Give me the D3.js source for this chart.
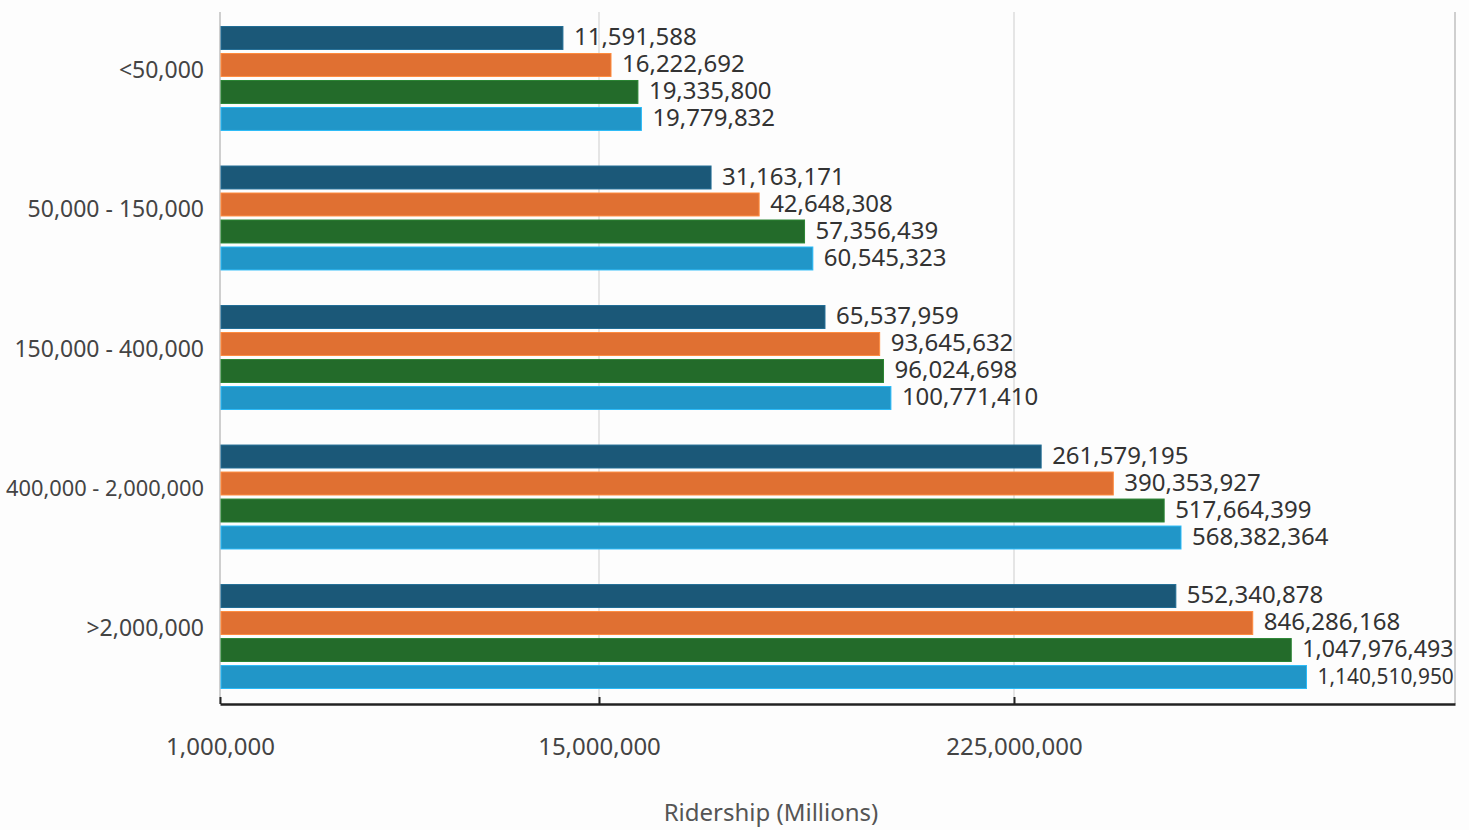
<!DOCTYPE html>
<html>
<head>
<meta charset="utf-8">
<script src="https://cdn.jsdelivr.net/npm/d3@7"></script>
<style>
  html, body { margin: 0; padding: 0; background: #fdfdfd; }
  svg { display: block; font-family: "Noto Sans", sans-serif; }
</style>
</head>
<body>
<svg id="chart" width="1469" height="830"></svg>
<script>
// ---- data ----
const categories = ["<50,000", "50,000 - 150,000", "150,000 - 400,000", "400,000 - 2,000,000", ">2,000,000"];
const seriesNames = ["s1", "s2", "s3", "s4"];
const series1 = [11591588, 31163171, 65537959, 261579195, 552340878];
const series2 = [16222692, 42648308, 93645632, 390353927, 846286168];
const series3 = [19335800, 57356439, 96024698, 517664399, 1047976493];
const series4 = [19779832, 60545323, 100771410, 568382364, 1140510950];
const tickValues = [1000000, 15000000, 225000000];
const axisTitle = "Ridership (Millions)";
const colors = ["#1b5878", "#e07032", "#236b2a", "#2196c8"];

(function () {
const allSeries = [series1, series2, series3, series4];
const rows = categories.map((c, i) => ({
  cat: c,
  vals: allSeries.map((s, j) => ({ key: seriesNames[j], v: s[i], color: colors[j] }))
}));

const svg = d3.select("#chart");
const mLeft = 220, mRight = 1455, mTop = 12, mBottom = 704;
const textLimit = 1454;

// piecewise log scale matching the reference's tick spacing
const x = d3.scaleLog()
  .domain([1e6, 15e6, 225e6, 2.6e9])
  .range([mLeft, 599, 1014, mRight]);

const y0 = d3.scaleBand().domain(categories).range([26.5, 688.5]).paddingInner(0.255).paddingOuter(0);
const y1 = d3.scaleBand().domain(seriesNames).range([0, y0.bandwidth()]).paddingInner(0.15).paddingOuter(0);

// frame lines / gridlines
svg.append("g").selectAll("line").data(tickValues.slice(1)).join("line")
  .attr("x1", d => x(d)).attr("x2", d => x(d))
  .attr("y1", mTop).attr("y2", mBottom)
  .attr("stroke", "#dcdcdc").attr("stroke-width", 1.5);
svg.append("line").attr("x1", mLeft).attr("x2", mLeft).attr("y1", mTop).attr("y2", mBottom)
  .attr("stroke", "#cfcfcf").attr("stroke-width", 2);
svg.append("line").attr("x1", mRight).attr("x2", mRight).attr("y1", mTop).attr("y2", mBottom)
  .attr("stroke", "#cfcfcf").attr("stroke-width", 2);

// bars
const groups = svg.append("g").selectAll("g").data(rows).join("g")
  .attr("transform", d => `translate(0,${y0(d.cat)})`);
groups.selectAll("rect").data(d => d.vals).join("rect")
  .attr("x", mLeft + 1)
  .attr("y", d => y1(d.key))
  .attr("width", d => x(d.v) - mLeft - 1)
  .attr("height", y1.bandwidth())
  .attr("fill", d => d.color)
  .attr("stroke", d => d3.color(d.color).brighter(0.6))
  .attr("stroke-width", 1);

const fmt = d3.format(",");
const valueFont = 24;
groups.selectAll("text").data(d => d.vals).join("text")
  .attr("x", d => x(d.v) + 11)
  .attr("y", d => y1(d.key) + y1.bandwidth() / 2 + 1)
  .attr("dominant-baseline", "middle")
  .attr("font-size", valueFont)
  .attr("fill", "#333")
  .text(d => fmt(d.v))
  .each(function (d) {
    const sx = x(d.v) + 11;
    const w = this.getComputedTextLength();
    if (sx + w > textLimit) {
      d3.select(this).attr("font-size", Math.floor(valueFont * (textLimit - sx) / w * 10) / 10);
    }
  });

// category labels
const labelRight = 204, labelMinLeft = 6, catFont = 23;
svg.append("g").selectAll("text").data(categories).join("text")
  .attr("x", labelRight)
  .attr("y", d => y0(d) + y0.bandwidth() / 2 - 7)
  .attr("text-anchor", "end")
  .attr("dominant-baseline", "middle")
  .attr("font-size", catFont)
  .attr("fill", "#444")
  .text(d => d)
  .each(function () {
    const w = this.getComputedTextLength();
    if (labelRight - w < labelMinLeft) {
      d3.select(this).attr("font-size", Math.floor(catFont * (labelRight - labelMinLeft) / w * 10) / 10);
    }
  });

// x axis
const xAxis = d3.axisBottom(x).tickValues(tickValues).tickFormat(fmt).tickSizeInner(-7).tickSizeOuter(0).tickPadding(34);
const gx = svg.append("g").attr("transform", `translate(0,${mBottom})`).call(xAxis);
gx.select(".domain").attr("stroke", "#222").attr("stroke-width", 2.5);
gx.selectAll(".tick line").attr("stroke", "#222").attr("stroke-width", 2);
gx.selectAll(".tick text").attr("font-size", 24).attr("fill", "#444").attr("font-family", "Noto Sans, sans-serif");

svg.append("text")
  .attr("x", 771).attr("y", 815)
  .attr("text-anchor", "middle").attr("dominant-baseline", "middle")
  .attr("font-size", 24).attr("fill", "#555")
  .text(axisTitle);
})();
</script>
</body>
</html>
